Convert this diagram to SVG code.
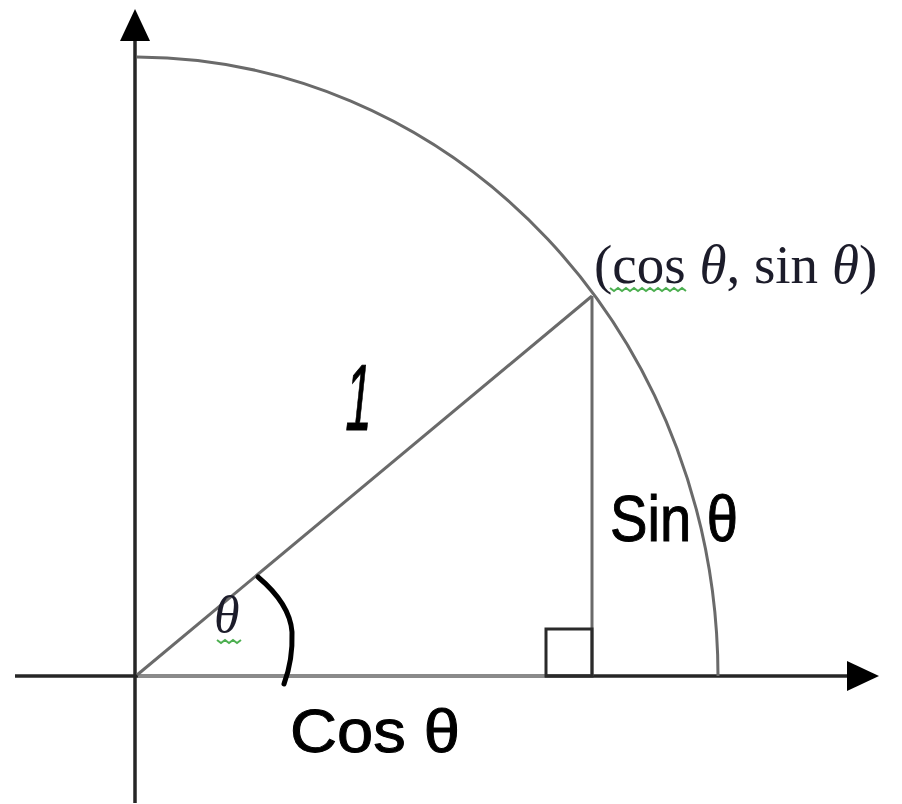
<svg xmlns="http://www.w3.org/2000/svg" width="902" height="804" viewBox="0 0 902 804">
<style>
.axis{stroke:#262626;stroke-width:3.5;fill:none}
.thin{stroke:#6a6a6a;stroke-width:3;fill:none}
.hand{font-family:"Liberation Sans",Arial,sans-serif;fill:#000;stroke:#000;stroke-width:1}
.serif{font-family:"Liberation Serif","Times New Roman",serif;fill:#1c1c2a}
.squig{stroke:#4caf50;stroke-width:2;fill:none}
</style>
<defs>
<marker id="arr" markerUnits="userSpaceOnUse" viewBox="0 0 32 30" markerWidth="32" markerHeight="30" refX="1" refY="15" orient="auto">
<path d="M0,0 L32,15 L0,30 Z" fill="#000"/>
</marker>
</defs>
<rect width="902" height="804" fill="#fff"/>
<g id="connectors">
<line class="axis" x1="135" y1="803" x2="135" y2="40" marker-end="url(#arr)"/>
<line class="axis" x1="15" y1="676" x2="848" y2="676" marker-end="url(#arr)"/>
<line x1="138" y1="676" x2="545" y2="676" stroke="#8a8a8a" stroke-width="4"/>
<path class="thin" d="M137,57 A583,620 0 0 1 718,676" stroke="#5a5a5a" stroke-width="2.5"/>
<line class="thin" x1="137" y1="675" x2="592" y2="296"/>
<line class="thin" x1="592" y1="296" x2="592" y2="676"/>
<rect x="546" y="629" width="46" height="47" fill="none" stroke="#2a2a2a" stroke-width="3"/>
<path d="M258,577 Q290,604 292,632 Q293,660 284,684" fill="none" stroke="#000" stroke-width="5" stroke-linecap="round"/>
</g>
<g id="point-label">
<text class="serif" x="594" y="283" font-size="55">(<tspan>cos</tspan> <tspan font-style="italic">θ</tspan>, sin <tspan font-style="italic">θ</tspan>)</text>
<path class="squig" d="M610,288 l4,3 l4,-3 l4,3 l4,-3 l4,3 l4,-3 l4,3 l4,-3 l4,3 l4,-3 l4,3 l4,-3 l4,3 l4,-3 l4,3 l4,-3 l4,3 l4,-3 l4,3"/>
</g>
<g id="angle-label">
<text class="serif" x="214" y="632" font-size="52" font-style="italic" fill="#3a3550">θ</text>
<path class="squig" d="M217,640 l4,3 l4,-3 l4,3 l4,-3 l4,3 l4,-3"/>
</g>
<g id="radius-label">
<text class="hand" transform="translate(343,430) skewX(-6) scale(0.5,1)" font-size="94" stroke-width="0.5">1</text>
</g>
<g id="cos-label">
<text class="hand" x="290" y="752" font-size="62" textLength="170" lengthAdjust="spacingAndGlyphs">Cos θ</text>
</g>
<g id="sin-label">
<text class="hand" x="610" y="541" font-size="64" textLength="128" lengthAdjust="spacingAndGlyphs">Sin θ</text>
</g>
</svg>
